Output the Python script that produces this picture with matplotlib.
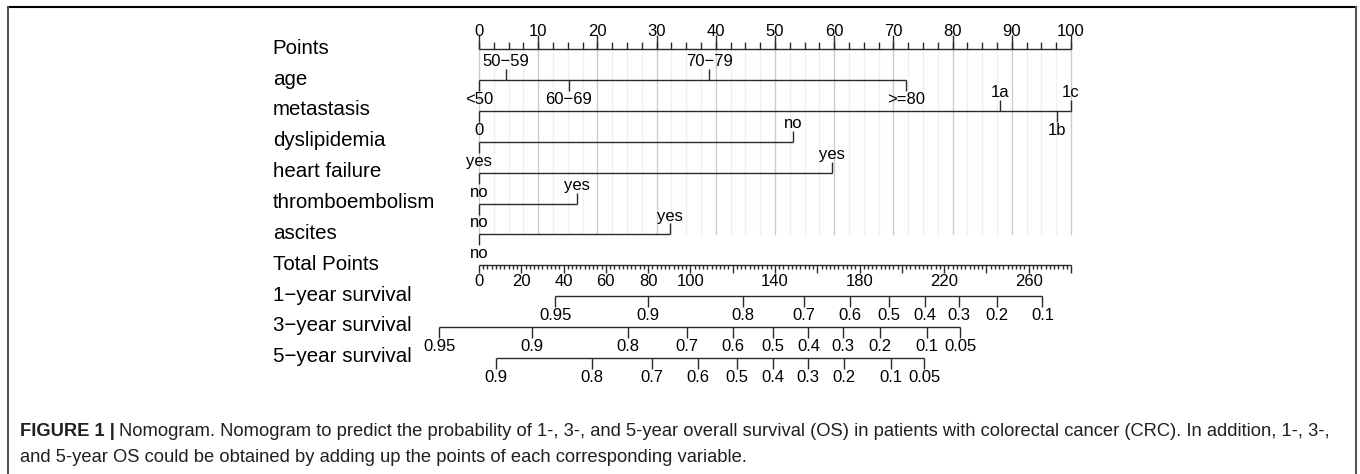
import matplotlib
matplotlib.use("Agg")
import matplotlib.pyplot as plt
from matplotlib.transforms import blended_transform_factory
from matplotlib.lines import Line2D
import numpy as np

plt.rcParams['font.family'] = ['Liberation Sans', 'DejaVu Sans']

# ---- data ----
row_names = ["Points", "age", "metastasis", "dyslipidemia", "heart failure",
             "thromboembolism", "ascites", "Total Points",
             "1\u2212year survival", "3\u2212year survival", "5\u2212year survival"]

points_major = np.arange(0, 101, 10)
points_minor = np.arange(0, 100.1, 2.5)

age_lab = ["<50", "50\u221259", "60\u221269", "70\u221279", ">=80"]
age_pts = [0, 4.6, 15.2, 38.9, 72.2]
age_side = [-1, 1, -1, 1, -1]

meta_lab = ["0", "1a", "1b", "1c"]
meta_pts = [0, 88.0, 97.6, 100]
meta_side = [-1, 1, -1, 1]

dysl_lab = ["yes", "no"]
dysl_pts = [0, 53.1]
hf_lab = ["no", "yes"]
hf_pts = [0, 59.7]
thrombo_lab = ["no", "yes"]
thrombo_pts = [0, 16.5]
ascites_lab = ["no", "yes"]
ascites_pts = [0, 32.3]
binary_side = [-1, 1]

total_max = 280
total_labels = [0, 20, 40, 60, 80, 100, 140, 180, 220, 260]

surv1_p = [0.95, 0.9, 0.8, 0.7, 0.6, 0.5, 0.4, 0.3, 0.2, 0.1]
surv1_tp = [36.0, 79.8, 125.0, 153.7, 175.5, 194.0, 211.0, 227.2, 244.9, 266.5]
surv3_p = [0.95, 0.9, 0.8, 0.7, 0.6, 0.5, 0.4, 0.3, 0.2, 0.1, 0.05]
surv3_tp = [-18.8, 24.9, 70.3, 98.2, 120.3, 138.9, 155.8, 172.3, 189.7, 211.8, 227.5]
surv5_p = [0.9, 0.8, 0.7, 0.6, 0.5, 0.4, 0.3, 0.2, 0.1, 0.05]
surv5_tp = [7.9, 53.3, 81.7, 103.4, 121.9, 138.9, 155.5, 172.8, 194.7, 210.6]

caption_bold = "FIGURE 1 |"
caption_1 = ("Nomogram. Nomogram to predict the probability of 1-, 3-, and 5-year overall "
             "survival (OS) in patients with colorectal cancer (CRC). In addition, 1-, 3-,")
caption_2 = "and 5-year OS could be obtained by adding up the points of each corresponding variable."

# ---- figure ----
W, H = 1360, 474
fig = plt.figure(figsize=(W / 100, H / 100), dpi=100)
top_px, bot_px = 49.3, 357.7
ax = fig.add_axes([479 / W, 1 - bot_px / H, 592 / W, (bot_px - top_px) / H])
ax.set_xlim(0, 100)
ax.set_ylim(10, 0)
ax.axis('off')
row_px = (bot_px - top_px) / 10.0
px = lambda p: p / row_px  # pixels -> row units

line_kw = dict(color='#2a2a2a', lw=1.0, clip_on=False, solid_capstyle='butt')
tick_fs = 12
lab_fs = 14.8

# grid
for g in points_minor:
    c = '#cccccc' if g % 10 == 0 else '#f0f0f0'
    ax.plot([g, g], [0, 6], color=c, lw=1.0, zorder=0, clip_on=False)

# Points axis
ax.plot([0, 100], [0, 0], **line_kw)
for t in points_minor:
    ax.plot([t, t], [0, -px(7)], **line_kw)
for t in points_major:
    ax.plot([t, t], [0, -px(14)], **line_kw)
    ax.text(t, -px(17.6), str(t), ha='center', va='center', fontsize=tick_fs)


def draw_var(row, labels, pts, sides):
    ax.plot([min(pts), max(pts)], [row, row], **line_kw)
    for lab, p, s in zip(labels, pts, sides):
        ax.plot([p, p], [row, row - s * px(11)], **line_kw)
        off = px(18.2) if s > 0 else px(19.4)
        ax.text(p, row - s * off, lab, ha='center', va='center', fontsize=tick_fs)


draw_var(1, age_lab, age_pts, age_side)
draw_var(2, meta_lab, meta_pts, meta_side)
draw_var(3, dysl_lab, dysl_pts, binary_side)
draw_var(4, hf_lab, hf_pts, binary_side)
draw_var(5, thrombo_lab, thrombo_pts, binary_side)
draw_var(6, ascites_lab, ascites_pts, binary_side)

# Total points axis
sc = 100.0 / total_max
ax.plot([0, 100], [7, 7], **line_kw)
for t in np.arange(0, total_max + 1, 2):
    ln = px(8) if t % 20 == 0 else px(4)
    ax.plot([t * sc, t * sc], [7, 7 + ln], **line_kw)
for t in total_labels:
    ax.text(t * sc, 7 + px(16), str(t), ha='center', va='center', fontsize=tick_fs)


def draw_surv(row, probs, tps):
    xs = [t * sc for t in tps]
    ax.plot([min(xs), max(xs)], [row, row], **line_kw)
    for p, x in zip(probs, xs):
        ax.plot([x, x], [row, row + px(11)], **line_kw)
        ax.text(x, row + px(19.5), f"{p:g}", ha='center', va='center', fontsize=tick_fs)


draw_surv(8, surv1_p, surv1_tp)
draw_surv(9, surv3_p, surv3_tp)
draw_surv(10, surv5_p, surv5_tp)

# row labels
tr = blended_transform_factory(fig.transFigure, ax.transData)
for i, name in enumerate(row_names):
    ax.text(272.7 / W, i - px(1), name, transform=tr, ha='left', va='center', fontsize=lab_fs)

# caption
cap_fs = 13.2
cap_col = '#231f20'
tb = fig.text(20 / W, 1 - 436 / H, caption_bold, fontsize=cap_fs, fontweight='bold',
              color=cap_col, va='baseline', ha='left')
r = fig.canvas.get_renderer()
bb = tb.get_window_extent(renderer=r)
fig.text((bb.x1 + 4) / W, 1 - 436 / H, caption_1, fontsize=cap_fs, color=cap_col,
         va='baseline', ha='left')
fig.text(20 / W, 1 - 462 / H, caption_2, fontsize=cap_fs, color=cap_col,
         va='baseline', ha='left')

# frame around the figure panel
fig.add_artist(Line2D([8 / W, 1356 / W], [1 - 7 / H, 1 - 7 / H], color='black', lw=1.5))
fig.add_artist(Line2D([8 / W, 8 / W], [1 - 7 / H, 0], color='#555555', lw=1.5))
fig.add_artist(Line2D([1356 / W, 1356 / W], [1 - 7 / H, 0], color='#555555', lw=1.5))

fig.savefig("out.png", dpi=100)
